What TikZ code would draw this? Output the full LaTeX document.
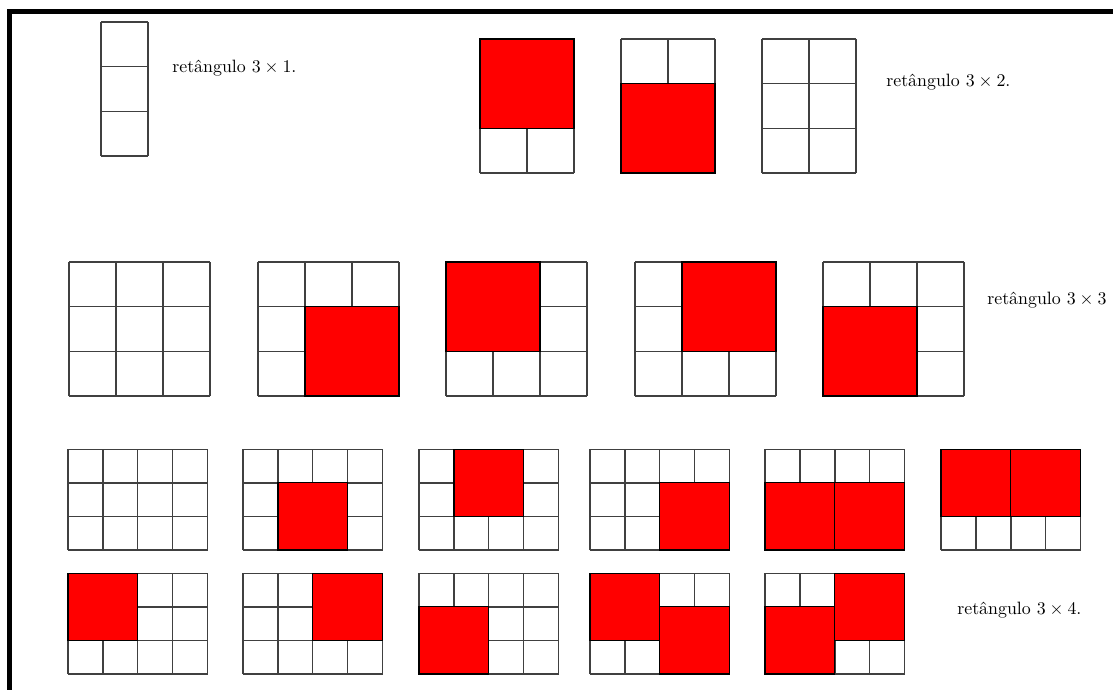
\documentclass[tikz,border=0pt]{standalone}
\usepackage{fontspec}
\usepackage{tikz}
\begin{document}
\begin{tikzpicture}[
  x=0.56pt, y=0.56pt,
  cell/.style={draw=black!75, line width=0.75pt, step=1},
  sq/.style={fill=red, draw=black, line width=0.7pt},
  lbl/.style={anchor=west, inner sep=0pt},
  moldura/.style={line width=2.8pt},
  gra/.style 2 args={shift={(#1,#2)}, x=26.3pt, y=25pt},
  pq/.style 2 args={shift={(#1,#2)}, x=19.55pt, y=18.8pt}
]
\useasboundingbox (0,0) rectangle (1113,689);
\clip (0,0) rectangle (1113,689);
\draw[moldura] (9.5,-10) -- (9.5,677) -- (1130,677);

\begin{scope}[gra={101}{533}]
  \draw[cell] (0,0) grid (1,3);
\end{scope}
\node[lbl] (t1) at (172,621) {retângulo $3\times 1$.};

\begin{scope}[gra={480}{516}]
  \draw[cell] (0,0) grid (2,3);
  \filldraw[sq] (0,1) rectangle (2,3);
\end{scope}
\begin{scope}[gra={621}{516}]
  \draw[cell] (0,0) grid (2,3);
  \filldraw[sq] (0,0) rectangle (2,2);
\end{scope}
\begin{scope}[gra={762}{516}]
  \draw[cell] (0,0) grid (2,3);
\end{scope}
\node[lbl] (t2) at (886,607) {retângulo $3\times 2$.};

\begin{scope}[gra={69}{293}]
  \draw[cell] (0,0) grid (3,3);
\end{scope}
\begin{scope}[gra={258}{293}]
  \draw[cell] (0,0) grid (3,3);
  \filldraw[sq] (1,0) rectangle (3,2);
\end{scope}
\begin{scope}[gra={446}{293}]
  \draw[cell] (0,0) grid (3,3);
  \filldraw[sq] (0,1) rectangle (2,3);
\end{scope}
\begin{scope}[gra={635}{293}]
  \draw[cell] (0,0) grid (3,3);
  \filldraw[sq] (1,1) rectangle (3,3);
\end{scope}
\begin{scope}[gra={823}{293}]
  \draw[cell] (0,0) grid (3,3);
  \filldraw[sq] (0,0) rectangle (2,2);
\end{scope}
\node[lbl] (t3) at (987,389) {retângulo $3\times 3$};

\begin{scope}[pq={68}{139}]
  \draw[cell] (0,0) grid (4,3);
\end{scope}
\begin{scope}[pq={243}{139}]
  \draw[cell] (0,0) grid (4,3);
  \filldraw[sq] (1,0) rectangle (3,2);
\end{scope}
\begin{scope}[pq={419}{139}]
  \draw[cell] (0,0) grid (4,3);
  \filldraw[sq] (1,1) rectangle (3,3);
\end{scope}
\begin{scope}[pq={590}{139}]
  \draw[cell] (0,0) grid (4,3);
  \filldraw[sq] (2,0) rectangle (4,2);
\end{scope}
\begin{scope}[pq={765}{139}]
  \draw[cell] (0,0) grid (4,3);
  \filldraw[sq] (0,0) rectangle (2,2);
  \filldraw[sq] (2,0) rectangle (4,2);
\end{scope}
\begin{scope}[pq={941}{139}]
  \draw[cell] (0,0) grid (4,3);
  \filldraw[sq] (0,1) rectangle (2,3);
  \filldraw[sq] (2,1) rectangle (4,3);
\end{scope}

\begin{scope}[pq={68}{15}]
  \draw[cell] (0,0) grid (4,3);
  \filldraw[sq] (0,1) rectangle (2,3);
\end{scope}
\begin{scope}[pq={243}{15}]
  \draw[cell] (0,0) grid (4,3);
  \filldraw[sq] (2,1) rectangle (4,3);
\end{scope}
\begin{scope}[pq={419}{15}]
  \draw[cell] (0,0) grid (4,3);
  \filldraw[sq] (0,0) rectangle (2,2);
\end{scope}
\begin{scope}[pq={590}{15}]
  \draw[cell] (0,0) grid (4,3);
  \filldraw[sq] (0,1) rectangle (2,3);
  \filldraw[sq] (2,0) rectangle (4,2);
\end{scope}
\begin{scope}[pq={765}{15}]
  \draw[cell] (0,0) grid (4,3);
  \filldraw[sq] (2,1) rectangle (4,3);
  \filldraw[sq] (0,0) rectangle (2,2);
\end{scope}
\node[lbl] (t4) at (957,79) {retângulo $3\times 4$.};
\end{tikzpicture}
\end{document}
